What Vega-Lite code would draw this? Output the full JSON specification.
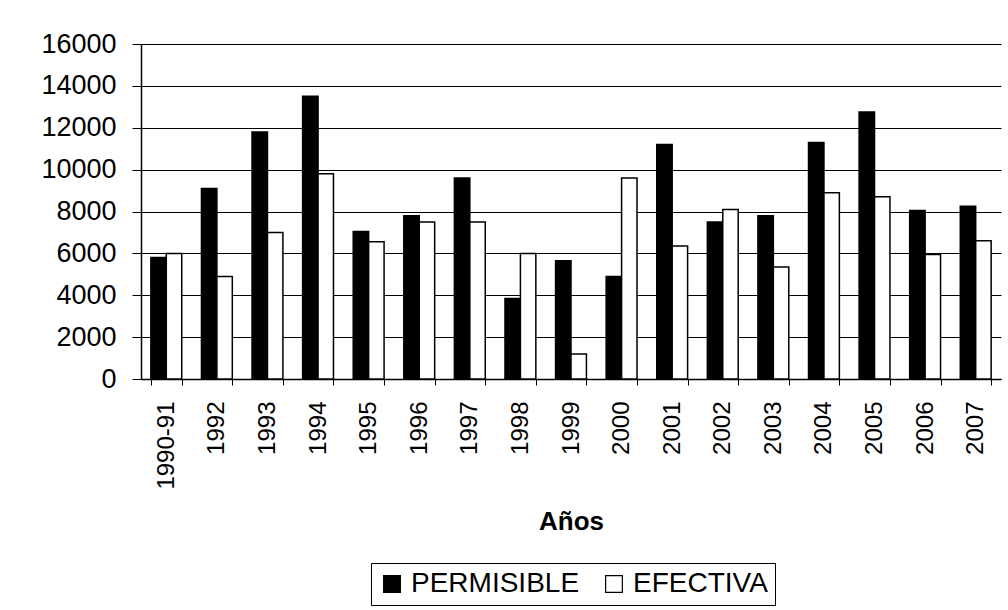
{
  "$schema": "https://vega.github.io/schema/vega-lite/v6.json",
  "width": 860,
  "height": 335,
  "autosize": {"type": "none"},
  "padding": {"left": 141, "top": 44, "right": 7, "bottom": 231},
  "background": "white",
  "data": {
    "values": [
      {"anio": "1990-91", "serie": "PERMISIBLE", "valor": 5800},
      {"anio": "1990-91", "serie": "EFECTIVA", "valor": 6000},
      {"anio": "1992", "serie": "PERMISIBLE", "valor": 9100},
      {"anio": "1992", "serie": "EFECTIVA", "valor": 4900},
      {"anio": "1993", "serie": "PERMISIBLE", "valor": 11800},
      {"anio": "1993", "serie": "EFECTIVA", "valor": 7000},
      {"anio": "1994", "serie": "PERMISIBLE", "valor": 13500},
      {"anio": "1994", "serie": "EFECTIVA", "valor": 9800},
      {"anio": "1995", "serie": "PERMISIBLE", "valor": 7050},
      {"anio": "1995", "serie": "EFECTIVA", "valor": 6550},
      {"anio": "1996", "serie": "PERMISIBLE", "valor": 7800},
      {"anio": "1996", "serie": "EFECTIVA", "valor": 7500},
      {"anio": "1997", "serie": "PERMISIBLE", "valor": 9600},
      {"anio": "1997", "serie": "EFECTIVA", "valor": 7500},
      {"anio": "1998", "serie": "PERMISIBLE", "valor": 3850},
      {"anio": "1998", "serie": "EFECTIVA", "valor": 6000},
      {"anio": "1999", "serie": "PERMISIBLE", "valor": 5650},
      {"anio": "1999", "serie": "EFECTIVA", "valor": 1200},
      {"anio": "2000", "serie": "PERMISIBLE", "valor": 4900},
      {"anio": "2000", "serie": "EFECTIVA", "valor": 9600},
      {"anio": "2001", "serie": "PERMISIBLE", "valor": 11200},
      {"anio": "2001", "serie": "EFECTIVA", "valor": 6350},
      {"anio": "2002", "serie": "PERMISIBLE", "valor": 7500},
      {"anio": "2002", "serie": "EFECTIVA", "valor": 8100},
      {"anio": "2003", "serie": "PERMISIBLE", "valor": 7800},
      {"anio": "2003", "serie": "EFECTIVA", "valor": 5350},
      {"anio": "2004", "serie": "PERMISIBLE", "valor": 11300},
      {"anio": "2004", "serie": "EFECTIVA", "valor": 8900},
      {"anio": "2005", "serie": "PERMISIBLE", "valor": 12750},
      {"anio": "2005", "serie": "EFECTIVA", "valor": 8700},
      {"anio": "2006", "serie": "PERMISIBLE", "valor": 8050},
      {"anio": "2006", "serie": "EFECTIVA", "valor": 5950},
      {"anio": "2007", "serie": "PERMISIBLE", "valor": 8250},
      {"anio": "2007", "serie": "EFECTIVA", "valor": 6600}
    ]
  },
  "mark": {"type": "bar", "stroke": "black", "strokeWidth": 1.5},
  "encoding": {
    "x": {
      "field": "anio",
      "type": "nominal",
      "sort": null,
      "scale": {"paddingInner": 0.39, "paddingOuter": 0.195},
      "axis": {
        "title": "Años",
        "titleFont": "Liberation Sans",
        "titleFontSize": 26,
        "titleFontWeight": "bold",
        "titleColor": "black",
        "titleY": 142,
        "titleBaseline": "middle",
        "labelAngle": 270,
        "labelFont": "Liberation Sans",
        "labelFontSize": 24,
        "labelColor": "black",
        "labelPadding": 16,
        "tickSize": 6,
        "tickColor": "black",
        "tickBand": "extent",
        "domainColor": "black",
        "domainWidth": 1.5,
        "grid": false
      }
    },
    "xOffset": {"field": "serie", "type": "nominal", "sort": ["PERMISIBLE", "EFECTIVA"]},
    "y": {
      "field": "valor",
      "type": "quantitative",
      "scale": {"domain": [0, 16000], "nice": false},
      "axis": {
        "title": null,
        "values": [0, 2000, 4000, 6000, 8000, 10000, 12000, 14000, 16000],
        "format": "d",
        "labelFont": "Liberation Sans",
        "labelFontSize": 27,
        "labelColor": "black",
        "labelPadding": 16,
        "tickSize": 9,
        "tickColor": "black",
        "domainColor": "black",
        "domainWidth": 1.5,
        "grid": true,
        "gridColor": "black",
        "gridWidth": 1.2
      }
    },
    "color": {
      "field": "serie",
      "type": "nominal",
      "sort": ["PERMISIBLE", "EFECTIVA"],
      "scale": {"domain": ["PERMISIBLE", "EFECTIVA"], "range": ["black", "white"]},
      "legend": {
        "title": null,
        "orient": "none",
        "legendX": 230,
        "legendY": 519,
        "direction": "horizontal",
        "strokeColor": "black",
        "fillColor": "white",
        "padding": 7,
        "symbolType": "square",
        "symbolSize": 280,
        "symbolStrokeColor": "black",
        "symbolStrokeWidth": 1.2,
        "labelFont": "Liberation Sans",
        "labelFontSize": 28,
        "labelLimit": 400,
        "labelColor": "black",
        "labelOffset": 5,
        "columnPadding": 20
      }
    }
  },
  "config": {"view": {"stroke": null}}
}
